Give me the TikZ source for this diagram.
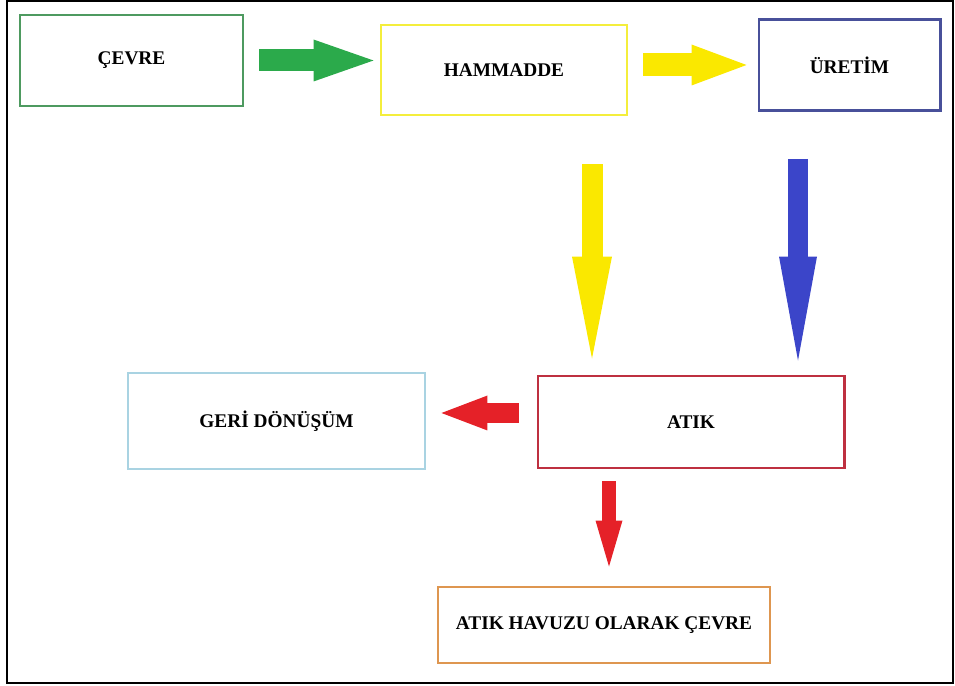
\documentclass[tikz,border=0pt]{standalone}
\usepackage{fontspec}
\setmainfont{Liberation Serif}
\usetikzlibrary{arrows.meta}
\definecolor{cevreline}{RGB}{78,154,96}
\definecolor{hamline}{RGB}{244,238,60}
\definecolor{uretline}{RGB}{72,80,154}
\definecolor{geriline}{RGB}{169,211,226}
\definecolor{atikline}{RGB}{190,48,64}
\definecolor{havuzline}{RGB}{222,150,80}
\definecolor{greenfill}{RGB}{43,170,75}
\definecolor{yellowfill}{RGB}{250,232,0}
\definecolor{bluefill}{RGB}{59,69,201}
\definecolor{redfill}{RGB}{229,33,40}
\begin{document}
\begin{tikzpicture}
	\def \toprow{-1.3}
	\def \midrow{-8.42}
	\def \botrow{-12.5}
	\tikzstyle{box}=[draw,line width=1.7pt,text centered,inner sep=4pt,font=\fontsize{11}{13}\selectfont\bfseries]
	\tikzstyle{blockarrow}=[line width=0.44cm]
	\useasboundingbox (0,0) rectangle (19.1,-13.72);
	% frame
	\draw[line width=1.1pt] (0.14,-0.02) rectangle (19.06,-13.66);
	
	% top row
	\node[box,draw=cevreline,minimum width=4.46cm,minimum height=1.82cm] 	(cevre)	at (2.63,-1.21)	{ÇEVRE};
	\node[box,draw=hamline,minimum width=4.92cm,minimum height=1.80cm] 	(hammadde)	at (10.08,-1.40)	{HAMMADDE};
	\node[box,draw=uretline,minimum width=3.62cm,minimum height=1.82cm] 	(uretim)	at (16.99,\toprow)	{ÜRETİM};
	
	% middle row
	\node[box,draw=geriline,minimum width=5.94cm,minimum height=1.92cm] 	(geri)	at (5.53,\midrow)	{GERİ DÖNÜŞÜM};
	\node[box,draw=atikline,minimum width=6.12cm,minimum height=1.84cm] 	(atik)	at (13.82,-8.44)	{ATIK};
	
	% bottom row
	\node[box,draw=havuzline,minimum width=6.64cm,minimum height=1.52cm] 	(havuz)	at (12.08,\botrow)	{ATIK HAVUZU OLARAK ÇEVRE};
	
	% arrow ends
	\coordinate (yellowtop) at ([xshift=1.76cm]hammadde.south);
	\coordinate (yellowbot) at (yellowtop |- atik.north);
	\coordinate (bluetop) at ([xshift=-1.03cm]uretim.south);
	\coordinate (bluebot) at (bluetop |- atik.north);
	\coordinate (redright) at ([yshift=0.18cm]atik.west);
	\coordinate (redleft) at (redright -| geri.east);
	\coordinate (redtop) at ([xshift=-1.64cm]atik.south);
	\coordinate (redbot) at (redtop |- havuz.north);
	
	\draw[blockarrow,greenfill,line width=0.44cm,-{Triangle[length=1.2cm,width=0.84cm,line width=0pt]},shorten <=0.30cm,shorten >=0.12cm]
		(cevre.east) -- (cevre.east -| hammadde.west);
	\draw[blockarrow,yellowfill,line width=0.46cm,-{Triangle[length=1.1cm,width=0.82cm,line width=0pt]},shorten <=0.30cm,shorten >=0.22cm]
		(uretim.west -| hammadde.east) -- (uretim.west);
	\draw[blockarrow,yellowfill,line width=0.42cm,-{Triangle[length=2.04cm,width=0.80cm,line width=0pt]},shorten <=0.96cm,shorten >=0.32cm]
		(yellowtop) -- (yellowbot);
	\draw[blockarrow,bluefill,line width=0.40cm,-{Triangle[length=2.08cm,width=0.76cm,line width=0pt]},shorten <=0.94cm,shorten >=0.28cm]
		(bluetop) -- (bluebot);
	\draw[blockarrow,redfill,line width=0.40cm,-{Triangle[length=0.92cm,width=0.70cm,line width=0pt]},shorten <=0.36cm,shorten >=0.30cm]
		(redright) -- (redleft);
	\draw[blockarrow,redfill,line width=0.28cm,-{Triangle[length=0.92cm,width=0.54cm,line width=0pt]},shorten <=0.24cm,shorten >=0.38cm]
		(redtop) -- (redbot);
\end{tikzpicture}
\end{document}
